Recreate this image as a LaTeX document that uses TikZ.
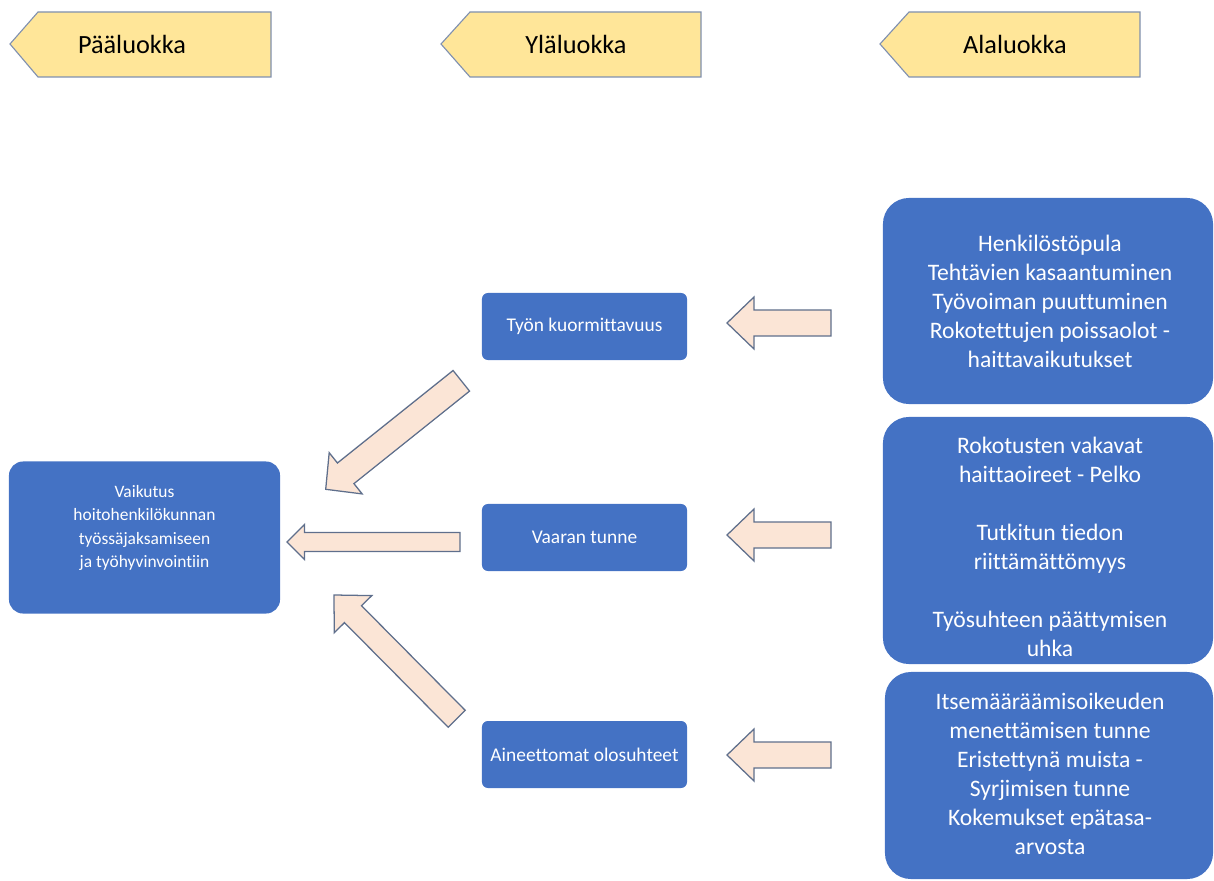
\documentclass[tikz,border=0pt]{standalone}
\usepackage{fontspec}
\setmainfont{Carlito}[Ligatures=NoCommon]
\usetikzlibrary{calc}
\definecolor{boxblue}{HTML}{4472C4}
\definecolor{hdrfill}{HTML}{FFE699}
\definecolor{hdrline}{HTML}{7F90B0}
\definecolor{arrfill}{HTML}{FBE5D6}
\definecolor{arrline}{HTML}{5F6F8C}
\newcommand{\blockarrow}[5]{%
  \coordinate (bah) at ($(#2)!#5!(#1)$);
  \draw[arrowshape] ($(#1)!#3!90:(#2)$) -- ($(bah)!#3!-90:(#1)$) -- ($(bah)!#4!-90:(#1)$) -- (#2) -- ($(bah)!#4!90:(#1)$) -- ($(bah)!#3!90:(#1)$) -- ($(#1)!#3!-90:(#2)$) -- cycle;
}
\tikzset{
  arrowshape/.style={fill=arrfill, draw=arrline, line width=0.9pt, line join=miter},
  hdrshape/.style={fill=hdrfill, draw=hdrline, line width=0.8pt},
  hdrtext/.style={font=\fontsize{18.7pt}{22pt}\selectfont, text=black},
  bluebox/.style={fill=boxblue, draw=none, rounded corners=#1},
  midbox/.style={bluebox=0.15cm, minimum width=5.125cm, minimum height=1.675cm, inner sep=0pt,
    text=white, font=\fontsize{13.8pt}{16.6pt}\selectfont},
  lefttext/.style={text=white, align=center, font=\fontsize{12.4pt}{16.6pt}\selectfont},
  righttext/.style={text=white, align=center, font=\fontsize{16.8pt}{20.6pt}\selectfont},
}
\begin{document}
\begin{tikzpicture}[x=0.025cm, y=-0.025cm]
\useasboundingbox (0,0) rectangle (1214,880);
% headers
\draw[hdrshape] (10,44) -- (38,12) -- (271,12) -- (271,77) -- (38,77) -- cycle;
\node[hdrtext] (h1) at (132,44) {Pääluokka};
\draw[hdrshape] (441,44) -- (470,12) -- (701,12) -- (701,77) -- (470,77) -- cycle;
\node[hdrtext] (h2) at (576,44) {Yläluokka};
\draw[hdrshape] (880,44) -- (909,12) -- (1140,12) -- (1140,77) -- (909,77) -- cycle;
\node[hdrtext] (h3) at (1015,44) {Alaluokka};
% left box
\node[bluebox=0.35cm, minimum width=6.775cm, minimum height=3.8cm] (main) at (144.5,537.5) {};
\node[lefttext] (maintext) at (144.5,528) {Vaikutus\\hoitohenkilökunnan\\työssäjaksamiseen\\ja työhyvinvointiin};
% middle boxes
\node[midbox] (tyon) at (584.5,326.5) {Työn kuormittavuus};
\node[midbox] (vaara) at (584.5,537.5) {Vaaran tunne};
\node[midbox] (aine) at (584.5,754.5) {Aineettomat olosuhteet};
% right boxes
\node[bluebox=0.65cm, minimum width=8.25cm, minimum height=5.15cm] (r1) at (1048,301) {};
\node[righttext] (r1text) at (1050,301) {Henkilöstöpula\\Tehtävien kasaantuminen\\Työvoiman puuttuminen\\Rokotettujen poissaolot -\\haittavaikutukset};
\node[bluebox=0.65cm, minimum width=8.25cm, minimum height=6.175cm] (r2) at (1048,540.5) {};
\node[righttext] (r2text) at (1050,546.5) {Rokotusten vakavat\\haittaoireet - Pelko\\[20.6pt]Tutkitun tiedon\\riittämättömyys\\[20.6pt]Työsuhteen päättymisen\\uhka};
\node[bluebox=0.65cm, minimum width=8.2cm, minimum height=5.175cm] (r3) at (1049,775.5) {};
\node[righttext] (r3text) at (1050,773.5) {Itsemääräämisoikeuden\\menettämisen tunne\\Eristettynä muista -\\Syrjimisen tunne\\Kokemukset epätasa-\\arvosta};
% arrows
\coordinate (a1t) at (461.3,380.8); \coordinate (a1p) at (325.7,489.3);
\blockarrow{a1t}{a1p}{0.33cm}{0.66cm}{0.64cm}
\coordinate (a2t) at (460,542); \coordinate (a2p) at (287,542);
\blockarrow{a2t}{a2p}{0.2375cm}{0.44cm}{0.44cm}
\coordinate (a3t) at (456.7,718.8); \coordinate (a3p) at (334,595);
\blockarrow{a3t}{a3p}{0.3cm}{0.66cm}{0.675cm}
\coordinate (a4t) at (831,323); \coordinate (a4p) at (727,323);
\blockarrow{a4t}{a4p}{0.325cm}{0.65cm}{0.675cm}
\coordinate (a5t) at (831,535); \coordinate (a5p) at (727,535);
\blockarrow{a5t}{a5p}{0.325cm}{0.65cm}{0.675cm}
\coordinate (a6t) at (831,755); \coordinate (a6p) at (727,755);
\blockarrow{a6t}{a6p}{0.325cm}{0.65cm}{0.675cm}
\end{tikzpicture}
\end{document}
